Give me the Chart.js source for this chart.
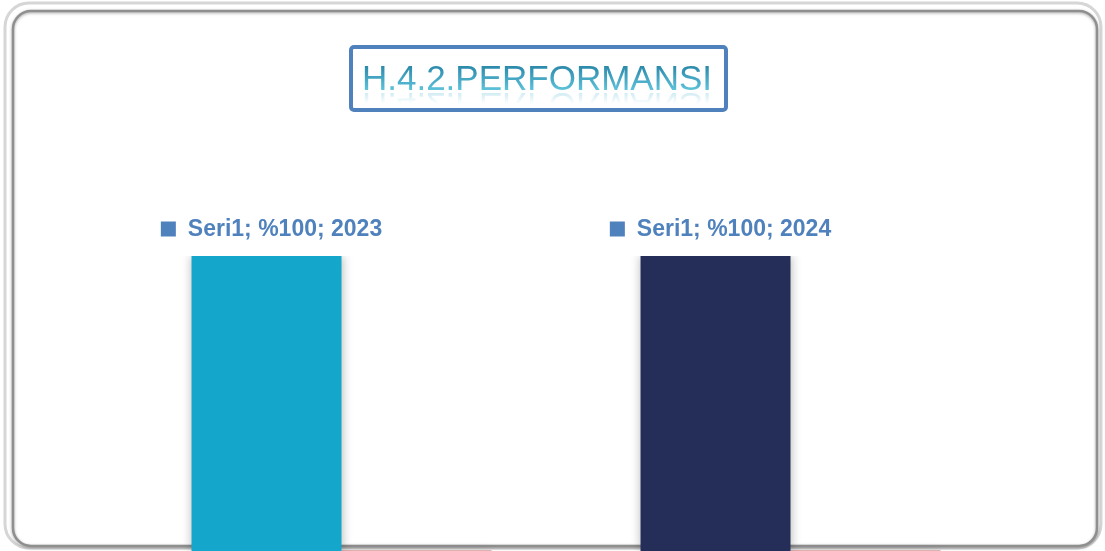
<!DOCTYPE html>
<html>
<head>
<meta charset="utf-8">
<title>H.4.2.PERFORMANSI</title>
<script src="https://cdn.jsdelivr.net/npm/chart.js@4/dist/chart.umd.min.js"></script>
<style>
  html, body { margin: 0; padding: 0; background: #fff; }
  #wrap { width: 1105px; height: 551px; position: relative; }
</style>
</head>
<body>
<div id="wrap"><canvas id="perfChart"></canvas></div>
<script>
// chart values
const titleText = 'H.4.2.PERFORMANSI';
const categories = ['2023', '2024'];
const seriesNames = ['Seri1', 'Seri2'];
const seri1Values = [100, 100];
const seri2Values = [0.3, 0.3];   // only a thin sliver shows at the bottom edge
const seri1Colors = ['#15a6cb', '#252d59'];
const seri2Color = '#deb0ae';

const LABEL_BLUE = '#4f81bd';

// rounded frame around the whole chart, drawn under the bars
const framePlugin = {
	id: 'frame',
	beforeDatasetsDraw(chart) {
		const ctx = chart.ctx;
		ctx.save();
		ctx.lineWidth = 3;
		ctx.strokeStyle = '#d6d6d6';
		ctx.beginPath();
		ctx.roundRect(5, 3, 1096, 545, 24);
		ctx.stroke();
		ctx.shadowColor = 'rgba(0,0,0,0.35)';
		ctx.shadowBlur = 3;
		ctx.shadowOffsetY = 1;
		ctx.lineWidth = 2.5;
		ctx.strokeStyle = '#8f8f8f';
		ctx.beginPath();
		ctx.roundRect(13, 11, 1084, 535, 18);
		ctx.stroke();
		ctx.restore();
		// soft shadow for the bars
		ctx.save();
		ctx.shadowColor = 'rgba(0,0,0,0.3)';
		ctx.shadowBlur = 10;
	},
	afterDatasetsDraw(chart) {
		chart.ctx.restore();
	}
};

// "■ Seri1; %100; 2023" labels above the Seri1 bars
const barLabelPlugin = {
	id: 'barLabels',
	afterDraw(chart) {
		const ctx = chart.ctx;
		const meta = chart.getDatasetMeta(0);
		ctx.save();
		ctx.font = 'bold 23px "Liberation Sans", Arial, sans-serif';
		ctx.textBaseline = 'middle';
		ctx.textAlign = 'left';
		meta.data.forEach((bar, i) => {
			const text = `${seriesNames[0]}; %${seri1Values[i]}; ${categories[i]}`;
			const box = 15, gap = 12;
			const w = box + gap + ctx.measureText(text).width;
			const x0 = bar.x + 5 - w / 2;
			const y = bar.y - 27;
			ctx.fillStyle = LABEL_BLUE;
			ctx.fillRect(x0, y - 7.5, box, box);
			ctx.fillText(text, x0 + box + gap, y + 1);
		});
		ctx.restore();
	}
};

// boxed title with a teal gradient
const titleBoxPlugin = {
	id: 'titleBox',
	afterDraw(chart) {
		const ctx = chart.ctx;
		const cx = 537, base = 90;
		ctx.save();
		ctx.lineWidth = 4;
		ctx.strokeStyle = '#4f81bd';
		ctx.beginPath();
		ctx.roundRect(351, 47, 375, 63, 3);
		ctx.stroke();

		ctx.font = '35px "Liberation Sans", Arial, sans-serif';
		ctx.textAlign = 'center';
		ctx.textBaseline = 'alphabetic';
		const grad = ctx.createLinearGradient(0, 64, 0, base);
		grad.addColorStop(0, '#2784a6');
		grad.addColorStop(1, '#5ec2da');
		ctx.fillStyle = grad;
		ctx.fillText(titleText, cx, base);

		// faint reflection under the title
		ctx.translate(0, base * 2 + 3);
		ctx.scale(1, -1);
		const rg = ctx.createLinearGradient(0, base - 11, 0, base);
		rg.addColorStop(0, 'rgba(120,200,220,0)');
		rg.addColorStop(1, 'rgba(120,200,220,0.35)');
		ctx.fillStyle = rg;
		ctx.beginPath();
		ctx.rect(340, base - 11, 400, 11);
		ctx.clip();
		ctx.fillText(titleText, cx, base);
		ctx.restore();
	}
};

const ctx = document.getElementById('perfChart').getContext('2d');
new Chart(ctx, {
	type: 'bar',
	data: {
		labels: categories,
		datasets: [
			{
				label: seriesNames[0],
				data: seri1Values,
				backgroundColor: seri1Colors,
				borderWidth: 0
			},
			{
				label: seriesNames[1],
				data: seri2Values,
				backgroundColor: seri2Color,
				borderWidth: 0
			}
		]
	},
	options: {
		responsive: true,
		maintainAspectRatio: false,
		animation: false,
		layout: {
			padding: { left: 117, right: 90, top: 256, bottom: 0 }
		},
		datasets: {
			bar: { categoryPercentage: 0.668, barPercentage: 1 }
		},
		scales: {
			x: { display: false },
			y: { display: false, min: 0, max: 100 }
		},
		plugins: {
			legend: { display: false },
			title: { display: false },
			tooltip: { enabled: false }
		}
	},
	plugins: [framePlugin, barLabelPlugin, titleBoxPlugin]
});
</script>
</body>
</html>
